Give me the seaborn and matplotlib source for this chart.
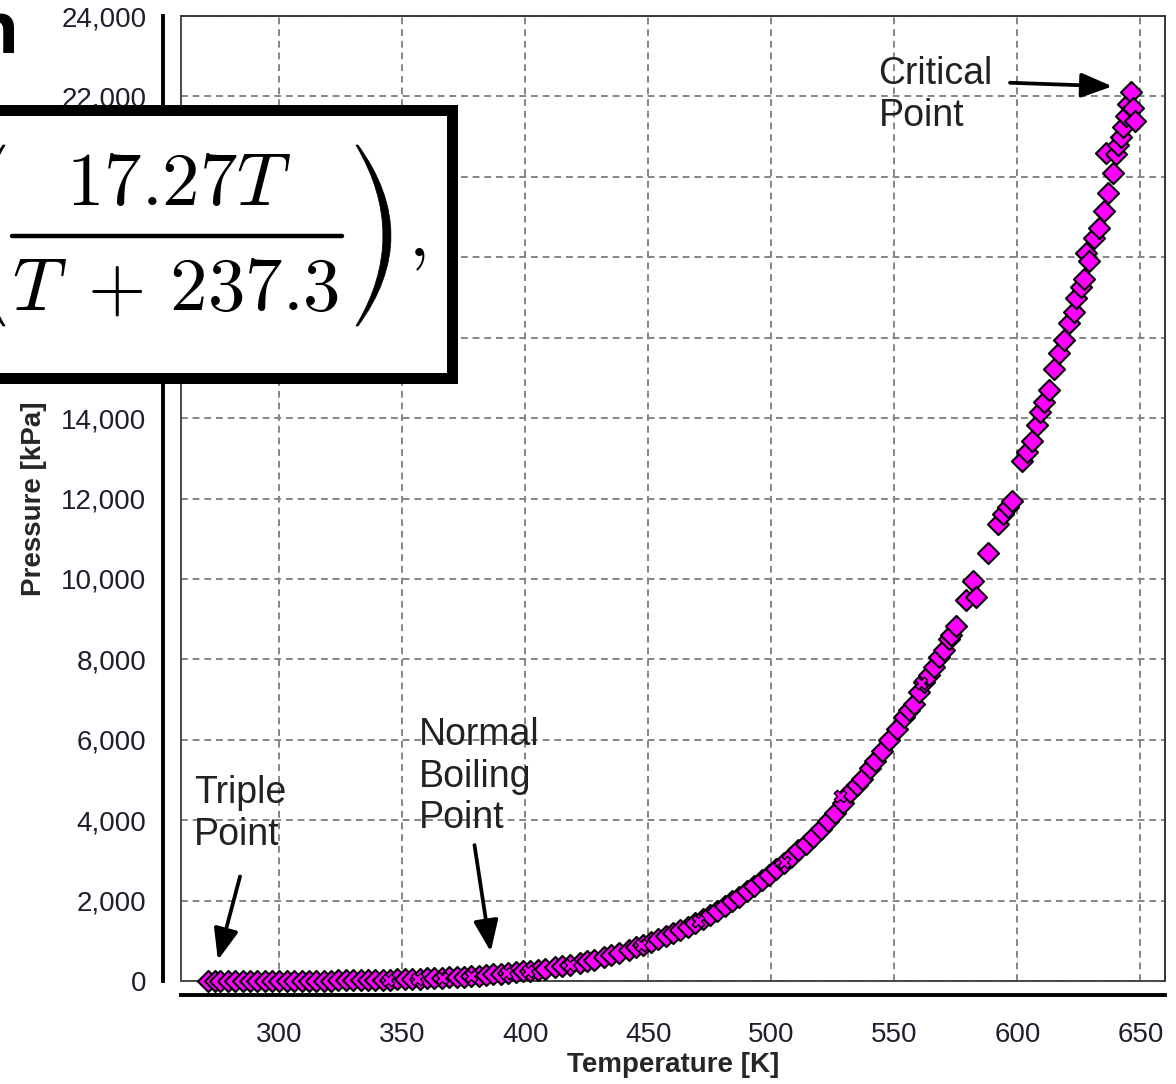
import pandas as pd
import seaborn as sns
import matplotlib.pyplot as plt
from matplotlib.patches import Rectangle, PathPatch
from matplotlib.path import Path
from matplotlib.lines import Line2D
from matplotlib.ticker import MultipleLocator, FuncFormatter

# saturation curve points (T in K, P in kPa)
temp_K = [
    271, 274, 276, 279, 282, 285, 288, 291, 294, 297,
    300, 303, 306, 309, 312, 315, 318, 321, 324, 327,
    330, 333, 336, 339, 342, 345, 348, 351, 354, 357,
    360, 363, 366, 369, 372, 375, 378, 381, 384, 387,
    390, 393, 396, 399, 402, 405, 408, 412, 415, 418,
    422, 425, 428, 432, 435, 438, 442, 445, 448, 451,
    454, 457, 460, 463, 466, 469, 472, 475, 478, 481,
    484, 487, 490, 493, 496, 499, 502, 505, 508, 511,
    514, 517, 520, 523, 526, 529, 532, 535, 537, 540,
    542, 545, 548, 551, 554, 556, 558, 560, 562, 564,
    566, 568, 570, 572, 573, 575, 579, 582, 583, 588,
    592, 594, 596, 598, 602, 604, 606, 608, 609, 611,
    613, 615, 617, 619, 621, 623, 624, 626, 627, 628,
    629, 631, 633, 635, 636, 637, 639, 640, 641, 642,
    643, 644, 645, 646, 647, 648,
]
pres_kPa = [
    0.5, 0.8, 0.9, 1.1, 1.2, 1.5, 1.7, 2.1, 2.5, 3,
    3.5, 4.3, 5.2, 6, 7.5, 8.5, 10, 12, 13, 15,
    18, 20, 24, 28, 31, 36, 40, 45, 52, 57,
    63, 70, 80, 88, 98, 108, 120, 132, 148, 162,
    180, 195, 215, 240, 260, 280, 305, 340, 370, 400,
    450, 490, 530, 600, 650, 700, 780, 850, 900, 970,
    1040, 1120, 1190, 1270, 1350, 1450, 1540, 1630, 1740, 1860,
    1980, 2100, 2230, 2360, 2500, 2640, 2790, 2940, 3090, 3250,
    3400, 3580, 3770, 3970, 4180, 4420, 4700, 4880, 5030, 5290,
    5480, 5720, 5990, 6270, 6570, 6740, 6900, 7180, 7440, 7620,
    7800, 8050, 8230, 8500, 8610, 8820, 9480, 9940, 9560, 10650,
    11360, 11610, 11800, 11950, 12940, 13150, 13440, 13820, 14150, 14400,
    14690, 15230, 15610, 15940, 16360, 16650, 16980, 17250, 17450, 18100,
    17900, 18480, 18730, 19140, 20600, 19600, 20100, 20560, 20800, 20980,
    21230, 21520, 21810, 22100, 21700, 21400,
]

# a few points drawn with the cross marker
temp_x = [344, 356, 366, 378, 392, 401, 418, 447, 470, 505, 528, 561]
pres_x = [33, 55, 80, 125, 190, 255, 400, 890, 1500, 2950, 4600, 7400]

x_ticks = [300, 350, 400, 450, 500, 550, 600, 650]
y_ticks = list(range(0, 24001, 2000))

sns.set_style("white")
plt.rcParams['font.family'] = ['Liberation Sans', 'DejaVu Sans']
plt.rcParams['mathtext.fontset'] = 'cm'

W, H = 1176, 1084
fig = plt.figure(figsize=(W / 100, H / 100), dpi=100)
ax = fig.add_axes([181 / W, 103 / H, 984 / W, 965 / H])


def fx(x):
    return x / W


def fy(y):
    # pixel row from the top -> figure fraction
    return 1 - y / H


df = pd.DataFrame({"T": temp_K, "P": pres_kPa})
df_x = pd.DataFrame({"T": temp_x, "P": pres_x})
sns.scatterplot(data=df, x="T", y="P", marker="D", s=115, color="#ff00ff",
                edgecolor="black", linewidth=1.5, ax=ax, zorder=3)
sns.scatterplot(data=df_x, x="T", y="P", marker="X", s=80, color="#ff00ff",
                edgecolor="black", linewidth=1.0, ax=ax, zorder=4)
for c in ax.collections:
    c.set_clip_on(False)

ax.set_xlim(260, 660)
ax.set_ylim(0, 24000)
ax.set_xticks(x_ticks)
ax.set_yticks(y_ticks)
ax.xaxis.set_minor_locator(MultipleLocator(12.5))
ax.yaxis.set_minor_locator(MultipleLocator(500))
ax.yaxis.set_major_formatter(FuncFormatter(lambda v, p: "{:,.0f}".format(v)))

# dashed grid
ax.grid(True, which="major", linestyle=(0, (3.5, 2.5)), color="#858585", linewidth=1.4)
ax.set_axisbelow(True)

# detached thick axis lines, thin frame round the plot area
ax.spines["left"].set_position(("outward", 13))
ax.spines["bottom"].set_position(("outward", 10))
for s in ["left", "bottom"]:
    ax.spines[s].set_linewidth(2.8)
    ax.spines[s].set_color("black")
for s in ["top", "right"]:
    ax.spines[s].set_linewidth(1.3)
    ax.spines[s].set_color("#3a3a3a")
ax.add_patch(Rectangle((0, 0), 1, 1, transform=ax.transAxes, fill=False,
                       ec="#3a3a3a", lw=1.3, zorder=2, clip_on=False))

ax.tick_params(axis="x", which="major", direction="out", length=8.5, width=1.2,
               color="#555555", labelsize=20, labelcolor="#1e1e2c", pad=11)
ax.tick_params(axis="x", which="minor", direction="out", length=6, width=1.0,
               color="#555555")
ax.tick_params(axis="y", which="major", direction="out", length=7, width=1.2,
               color="#555555", labelsize=20, labelcolor="#1e1e2c", pad=5)
ax.tick_params(axis="y", which="minor", direction="out", length=4.3, width=1.0,
               color="#555555")

ax.set_xlabel("Temperature [K]", fontsize=20, fontweight="bold")
ax.set_ylabel("Pressure [kPa]", fontsize=20, fontweight="bold", va="center")
ax.xaxis.set_label_coords(0.5, -0.074)
ax.yaxis.set_label_coords(-0.1495, 0.5)

# labels with arrows
arrow = dict(arrowstyle="-|>,head_length=1.9,head_width=0.75", color="black",
             lw=2.7, shrinkA=0, shrinkB=0, mutation_scale=10)
txt = dict(fontsize=27, color="#222222", ha="left", va="top", linespacing=1.2)

ax.text(543.5, 23000, "Critical\nPoint", **txt)
ax.annotate("", xy=(638.6, 22250), xytext=(597, 22340), arrowprops=arrow)

ax.text(265.3, 5120, "Triple\nPoint", **txt)
ax.annotate("", xy=(275.0, 520), xytext=(284.0, 2600), arrowprops=arrow)

ax.text(356.6, 6560, "Normal\nBoiling\nPoint", **txt)
ax.annotate("", xy=(385.9, 730), xytext=(379.3, 3380), arrowprops=arrow)

# formula box lying over the chart
fig.add_artist(Rectangle((fx(-20), fy(377.5)), fx(471.5), 267 / H,
                         transform=fig.transFigure, fc="white", ec="black",
                         lw=7.9, zorder=10))
fig.text(fx(179), fy(205), r"$17.27T$", ha="center", va="baseline",
         fontsize=54, color="black", zorder=11)
fig.text(fx(176), fy(309), r"$T\;+\,237.3$", ha="center", va="baseline",
         fontsize=54, color="black", zorder=11)
fig.add_artist(Line2D([fx(12), fx(342)], [fy(236), fy(236)], color="black",
                      lw=3.2, transform=fig.transFigure, zorder=11))
fig.text(fx(408), fy(256), r"$,$", ha="left", va="baseline",
         fontsize=54, color="black", zorder=11)


def paren(x_end, x_out, x_in, top, bot, mid):
    # crescent shaped bracket, ends at x_end, belly reaching x_out / x_in
    verts = [(x_end, top), (2 * x_out - x_end, mid), (x_end, bot),
             (x_end - (x_out - x_in) * 0.3, bot),
             (2 * x_in - x_end, mid), (x_end - (x_out - x_in) * 0.3, top),
             (x_end, top)]
    codes = [Path.MOVETO, Path.CURVE3, Path.CURVE3, Path.LINETO,
             Path.CURVE3, Path.CURVE3, Path.CLOSEPOLY]
    verts = [(fx(a), fy(b)) for a, b in verts]
    return PathPatch(Path(verts, codes), fc="black", ec="black", lw=0.5,
                     transform=fig.transFigure, zorder=11)


fig.add_artist(paren(358, 391, 384, 145, 326, 236))
fig.add_artist(paren(3, -30, -23, 145, 326, 236))

# slide title fragment at the top-left corner
fig.text(19 / W, (H - 53) / H, "n", ha="right", va="baseline", fontsize=52,
         fontweight="bold", family=["Open Sans", "DejaVu Sans"], color="black")

fig.savefig("out.png", dpi=100)
